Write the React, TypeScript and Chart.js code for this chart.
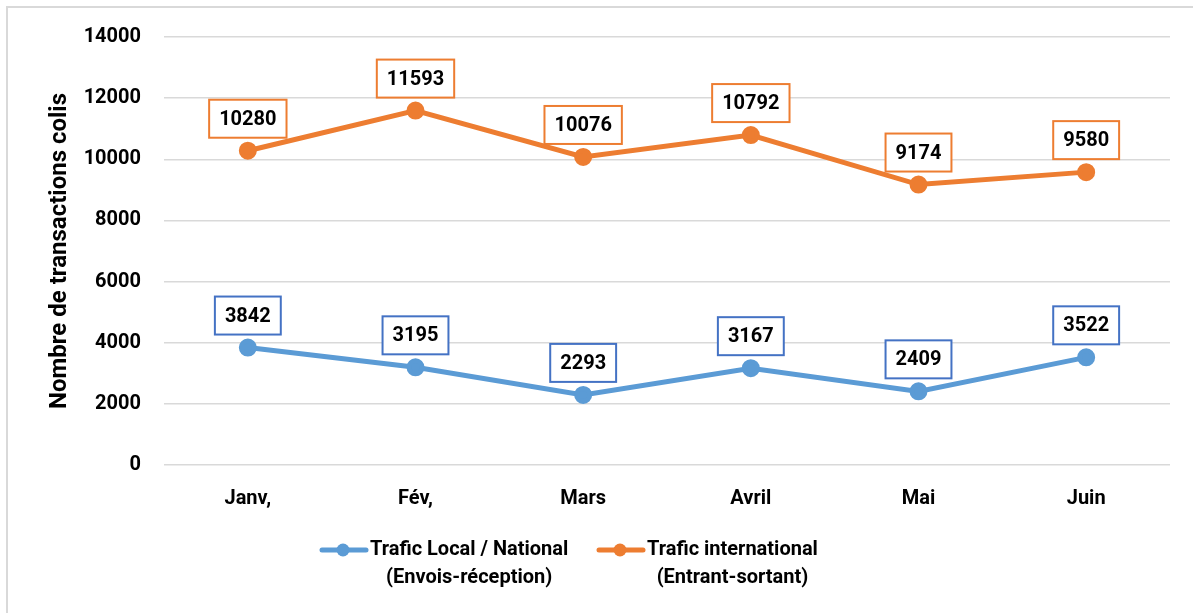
import React, { useEffect, useRef } from "react";
import { Chart, registerables } from "chart.js";

Chart.register(...registerables);

const categories = ["Janv,", "Fév,", "Mars", "Avril", "Mai", "Juin"];
const localValues = [3842, 3195, 2293, 3167, 2409, 3522];
const internationalValues = [10280, 11593, 10076, 10792, 9174, 9580];
const yMin = 0;
const yMax = 14000;
const yStep = 2000;
const yTitle = "Nombre de transactions colis";
const legendLines = [
  ["Trafic Local / National", "(Envois-réception)"],
  ["Trafic international", "(Entrant-sortant)"],
];

const BLUE = "#5B9BD5";
const BLUE_BOX = "#4472C4";
const ORANGE = "#ED7D31";
const FONT = "Roboto";
const W = "bold";

const overlayPlugin = {
  id: "overlay",
  afterDatasetsDraw(chart: any) {
    const ctx = chart.ctx as CanvasRenderingContext2D;
    const area = chart.chartArea;
    ctx.save();
    // data labels
    ctx.font = `${W} 20px ${FONT}`;
    ctx.textAlign = "center";
    ctx.textBaseline = "middle";
    chart.data.datasets.forEach((ds: any, di: number) => {
      const meta = chart.getDatasetMeta(di);
      meta.data.forEach((pt: any, i: number) => {
        const txt = String(ds.data[i]);
        const w = ctx.measureText(txt).width + 20;
        const h = 38;
        const cx = pt.x;
        const cy = pt.y - 13 - h / 2;
        ctx.fillStyle = "#ffffff";
        ctx.fillRect(cx - w / 2, cy - h / 2, w, h);
        ctx.lineWidth = 2;
        ctx.strokeStyle = ds.labelBorder;
        ctx.strokeRect(cx - w / 2, cy - h / 2, w, h);
        ctx.fillStyle = "#000000";
        ctx.fillText(txt, cx, cy + 1);
      });
    });
    // y title
    ctx.save();
    ctx.translate(60, (area.top + area.bottom) / 2);
    ctx.rotate(-Math.PI / 2);
    ctx.font = `${W} 24px ${FONT}`;
    ctx.fillStyle = "#000";
    ctx.textAlign = "center";
    ctx.textBaseline = "middle";
    ctx.fillText(yTitle, 0, 0);
    ctx.restore();
    // legend
    const starts = [320, 597];
    chart.data.datasets.forEach((ds: any, di: number) => {
      const x0 = starts[di];
      const y0 = 550;
      ctx.strokeStyle = ds.borderColor;
      ctx.lineWidth = 5;
      ctx.lineCap = "round";
      ctx.beginPath();
      ctx.moveTo(x0 + 2, y0);
      ctx.lineTo(x0 + 46, y0);
      ctx.stroke();
      ctx.fillStyle = ds.borderColor;
      ctx.beginPath();
      ctx.arc(x0 + 23, y0, 6.5, 0, Math.PI * 2);
      ctx.fill();
      ctx.font = `${W} 20px ${FONT}`;
      ctx.fillStyle = "#000";
      ctx.textBaseline = "middle";
      const lines = legendLines[di];
      const widths = lines.map((l) => ctx.measureText(l).width);
      const maxW = Math.max(...widths);
      const tx = x0 + 50;
      ctx.textAlign = "center";
      lines.forEach((l, li) => {
        ctx.fillText(l, tx + maxW / 2, y0 + li * 28);
      });
    });
    ctx.restore();
  },
};

export default function App() {
  const ref = useRef<HTMLCanvasElement>(null);
  useEffect(() => {
    if (!ref.current) return;
    const chart = new Chart(ref.current, {
      type: "line",
      data: {
        labels: categories,
        datasets: [
          {
            label: legendLines[0].join(" "),
            data: localValues,
            borderColor: BLUE,
            backgroundColor: BLUE,
            borderWidth: 5,
            pointRadius: 6.5,
            pointHoverRadius: 6.5,
            pointBackgroundColor: BLUE,
            pointBorderColor: BLUE,
            tension: 0,
            labelBorder: BLUE_BOX,
          } as any,
          {
            label: legendLines[1].join(" "),
            data: internationalValues,
            borderColor: ORANGE,
            backgroundColor: ORANGE,
            borderWidth: 5,
            pointRadius: 6.5,
            pointHoverRadius: 6.5,
            pointBackgroundColor: ORANGE,
            pointBorderColor: ORANGE,
            tension: 0,
            labelBorder: ORANGE,
          } as any,
        ],
      },
      options: {
        animation: false,
        responsive: false,
        maintainAspectRatio: false,
        layout: { padding: { top: 37, right: 23, left: 0, bottom: 0 } },
        plugins: {
          legend: { display: false },
          tooltip: { enabled: false },
        },
        scales: {
          x: {
            offset: true,
            grid: { display: false },
            border: { display: false },
            ticks: {
              color: "#000",
              font: { family: FONT, size: 20, weight: W as any },
              padding: 14,
            },
            afterFit: (scale: any) => {
              scale.height = 613 - 465;
            },
          },
          y: {
            min: yMin,
            max: yMax,
            border: { display: false },
            grid: { color: "#d9d9d9", lineWidth: 1.5, drawTicks: false },
            ticks: {
              stepSize: yStep,
              color: "#000",
              font: { family: FONT, size: 20, weight: W as any },
              padding: 23,
              callback: (v: any) => String(v),
            },
            afterFit: (scale: any) => {
              scale.width = 164;
            },
          },
        },
      },
      plugins: [overlayPlugin],
    });
    return () => chart.destroy();
  }, []);
  return (
    <div
      style={{
        position: "fixed",
        left: 0,
        top: 0,
        width: 1193,
        height: 613,
        overflow: "hidden",
        background: "#fff",
      }}
    >
      <div
        style={{
          position: "absolute",
          left: 6,
          top: 6,
          width: 1200,
          height: 620,
          border: "2px solid #d9d9d9",
        }}
      />
      <canvas
        ref={ref}
        width={1193}
        height={613}
        style={{ position: "absolute", left: 0, top: 0, width: 1193, height: 613 }}
      />
    </div>
  );
}
